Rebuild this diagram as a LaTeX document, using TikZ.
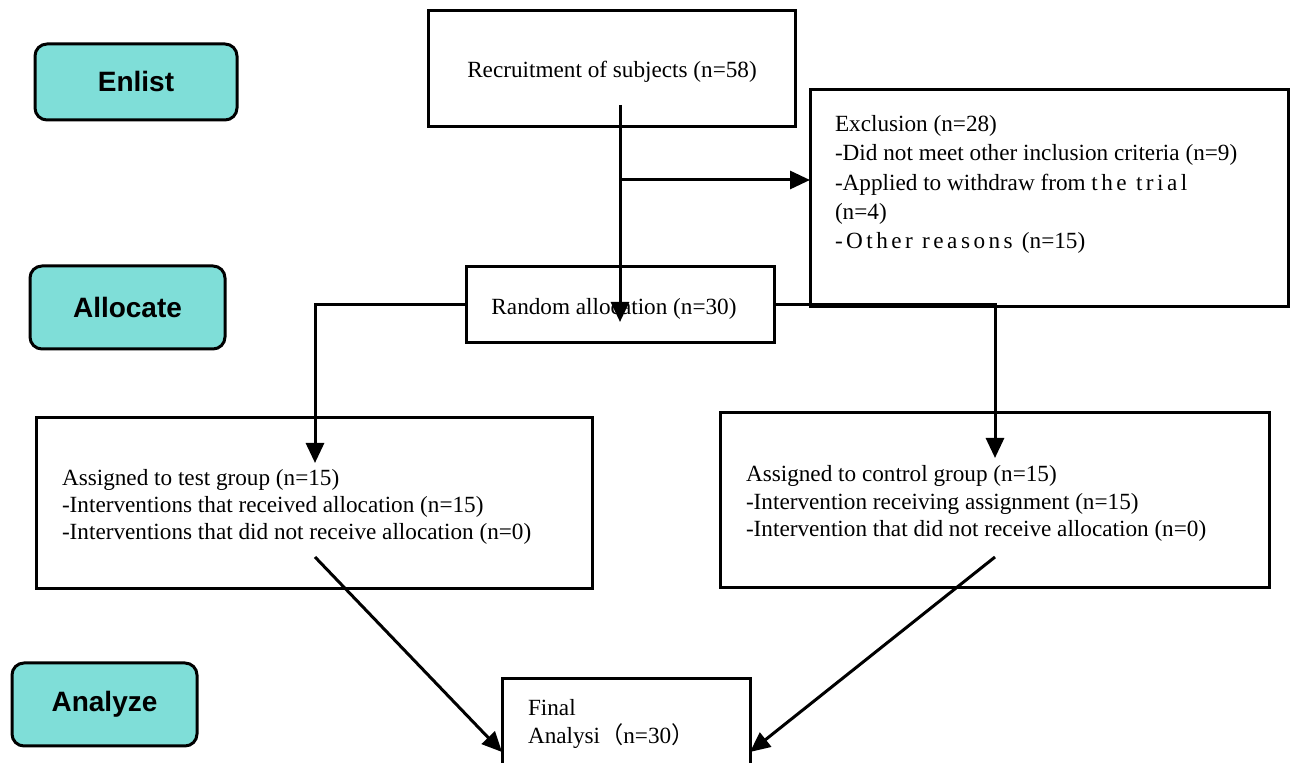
\documentclass[tikz,border=0pt]{standalone}
\usepackage{fontspec}
\setmainfont{Liberation Serif}
\newfontfamily\labfont{Liberation Sans}
\newfontfamily\wide[LetterSpace=15]{Liberation Serif}
\newfontfamily\cjk{Noto Sans CJK SC}
\usetikzlibrary{arrows.meta}
\definecolor{tealfill}{RGB}{127,222,216}
\tikzset{
  every node/.style={inner sep=0pt, outer sep=0pt},
  box/.style={draw=black, line width=1.5pt, fill=white},
  stage/.style={draw=black, line width=1.5pt, fill=tealfill, rounded corners=6pt,
    font=\labfont\bfseries\fontsize{14}{16}\selectfont},
  txt/.style={font=\fontsize{11.6}{13.6}\selectfont, align=left, anchor=west},
  arr/.style={line width=1.5pt, -{Triangle[length=10pt,width=9pt]}},
  ln/.style={line width=1.5pt}
}
\begin{document}
\begin{tikzpicture}[x=0.5pt,y=-0.5pt]
\useasboundingbox (0,0) rectangle (1290,763);
% stage labels
\node[stage, minimum width=101pt, minimum height=38pt] (enlist) at (136,82) {Enlist};
\node[stage, minimum width=97.5pt, minimum height=41.5pt] (allocate) at (127.5,307.5) {Allocate};
\node[stage, minimum width=92.5pt, minimum height=41.5pt] (analyze) at (104.5,704.5) {Analyze};
% boxes
\node[box, minimum width=183.5pt, minimum height=58pt] (rec) at (611.5,69) {};
\node[txt, anchor=center] (rectxt) at (612,72) {Recruitment of subjects (n=58)};
\node[box, minimum width=239pt, minimum height=108.5pt] (exc) at (1049,198.5) {};
\node[txt, font=\fontsize{11.6}{14.6}\selectfont] (exctxt) at (835,184.5) {Exclusion (n=28)\\-Did not meet other inclusion criteria (n=9)\\-Applied to withdraw from {\wide the trial}\\{\wide(}n=4{\wide)}\\{\wide -Other reasons (}n=15{\wide)}};
\node[box, minimum width=154pt, minimum height=38pt] (rand) at (620,305) {};
\node[txt, anchor=center] (randtxt) at (614,309) {Random allocation (n=30)};
\node[box, minimum width=278pt, minimum height=85.5pt] (test) at (314,503.5) {};
\node[txt] (testtxt) at (62,507) {Assigned to test group (n=15)\\-Interventions that received allocation (n=15)\\-Interventions that did not receive allocation (n=0)};
\node[box, minimum width=274.5pt, minimum height=87.5pt] (ctrl) at (994.5,500.5) {};
\node[txt] (ctrltxt) at (746,503.5) {Assigned to control group (n=15)\\-Intervention receiving assignment (n=15)\\-Intervention that did not receive allocation (n=0)};
\node[box, minimum width=124pt, minimum height=45pt] (final) at (626,724) {};
\node[txt] (finaltxt) at (528,724) {Final\\Analysi{\cjk （}n=30{\cjk ）}};
% connectors
\coordinate (rs) at (620,105);
\coordinate (re) at (620,322);
\coordinate (j1) at (620,180);
\draw[arr] (rs) -- (re);
\draw[arr] (j1) -- (j1 -| exc.west);
\coordinate (tl) at (315,463);
\coordinate (tr) at (995,458);
\draw[arr] (rand.west) -| (tl);
\draw[arr] (rand.east) -| (tr);
\coordinate (ts) at (315,557);
\coordinate (cs) at (995,557);
\coordinate (fl) at (502,752);
\coordinate (fr) at (750,752);
\draw[arr] (ts) -- (fl);
\draw[arr] (cs) -- (fr);
\end{tikzpicture}
\end{document}
